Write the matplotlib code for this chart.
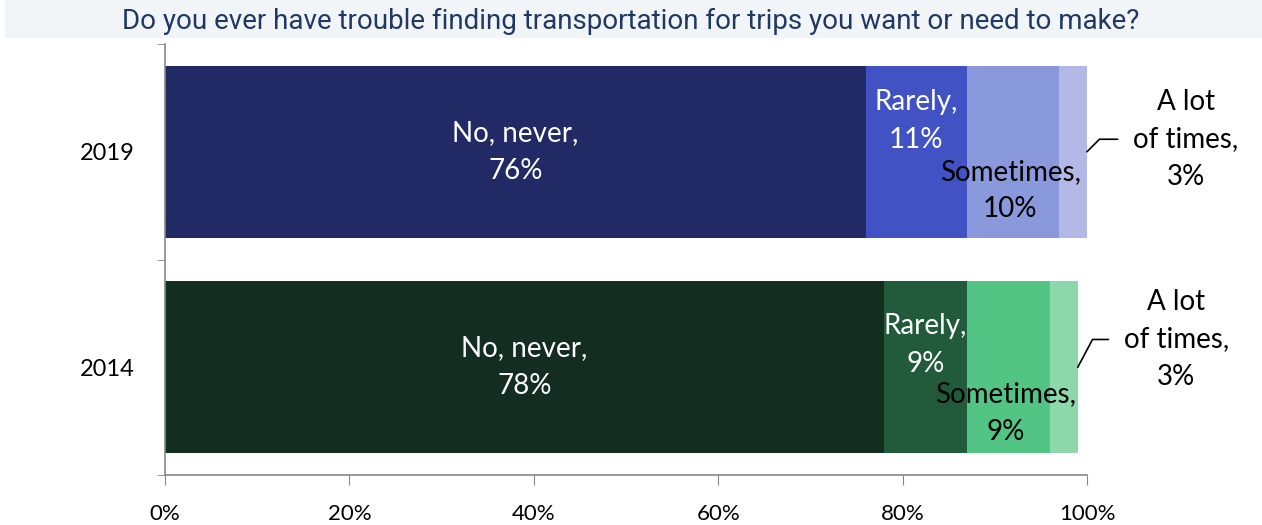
import matplotlib
matplotlib.use("Agg")
import matplotlib.pyplot as plt
from matplotlib.patches import Rectangle

# chart data
years = ["2019", "2014"]
answers = ["No, never", "Rarely", "Sometimes", "A lot\nof times"]
values_2019 = [76, 11, 10, 3]
values_2014 = [78, 9, 9, 3]
colors_2019 = ["#212A64", "#4052C4", "#8A98DC", "#B3B9E6"]
colors_2014 = ["#132D20", "#215B3B", "#52C585", "#8CD8AA"]
xticks = [0, 20, 40, 60, 80, 100]
title = "Do you ever have trouble finding transportation for trips you want or need to make?"

# label offsets (points) per row: rarely, sometimes, a-lot, leader angle
label_offsets = {
    "2019": dict(rarely=22, sometimes=-28, lot=9, angle=45),
    "2014": dict(rarely=16, sometimes=-33, lot=20, angle=62),
}

plt.rcParams['font.family'] = ['Lato', 'DejaVu Sans']

fig = plt.figure(figsize=(12.62, 5.25), dpi=100)
ax = fig.add_axes([0.1307, 0.0952, 0.7306, 0.821])

# title band
fig.patches.append(Rectangle((0.004, 0.928), 0.996, 0.072, transform=fig.transFigure,
                             facecolor="#F2F5F8", edgecolor="none", zorder=0))
fig.text(0.5, 0.960, title, ha="center", va="center", fontsize=20,
         color="#1F3864", family=["Roboto", "DejaVu Sans"])

rows = [values_2019, values_2014]
row_colors = [colors_2019, colors_2014]
ypos = [1, 0]
LS = 1.55
FS = 20

for yr, y, vals, cols in zip(years, ypos, rows, row_colors):
    off = label_offsets[yr]
    left = 0
    for i, (v, c) in enumerate(zip(vals, cols)):
        ax.barh(y, v, left=left, height=0.8, color=c, edgecolor="none")
        cx = left + v / 2
        lbl = f"{answers[i]},\n{v}%"
        if i == 0:
            ax.text(cx, y, lbl, ha="center", va="center", color="white", fontsize=FS,
                    linespacing=LS)
        elif i == 1:
            ax.annotate(lbl, (cx, y), xytext=(0, off["rarely"]), textcoords="offset points",
                        ha="center", va="center", color="white", fontsize=FS,
                        linespacing=LS)
        elif i == 2:
            ax.annotate(lbl, (cx, y), xytext=(-2, off["sometimes"]), textcoords="offset points",
                        ha="center", va="center", color="black", fontsize=FS,
                        linespacing=LS)
        else:
            ax.annotate(lbl, (left + v, y), xytext=(71, off["lot"]), textcoords="offset points",
                        ha="center", va="center", color="black", fontsize=FS,
                        linespacing=LS,
                        arrowprops=dict(arrowstyle="-", color="black", lw=1.2,
                                        shrinkA=9, shrinkB=0, relpos=(0.0, 0.5),
                                        connectionstyle=f"angle,angleA=0,angleB={off['angle']},rad=0"))
        left += v

ax.set_xlim(0, 100)
ax.set_ylim(-0.5, 1.5)
ax.set_xticks(xticks)
ax.set_xticklabels([f"{t}%" for t in xticks], fontsize=16)
ax.set_yticks([0, 1])
ax.set_yticklabels(["2014", "2019"], fontsize=17)
ax.set_yticks([-0.5, 0.5, 1.5], minor=True)
ax.tick_params(axis="y", which="major", length=0, pad=22)
ax.tick_params(axis="y", which="minor", length=6, direction="out", color="#888888")
ax.tick_params(axis="x", length=7, direction="out", color="#888888", pad=14)

for s in ["top", "right"]:
    ax.spines[s].set_visible(False)
for s in ["left", "bottom"]:
    ax.spines[s].set_color("#888888")
    ax.spines[s].set_linewidth(1.2)

fig.savefig("out.png", dpi=100, facecolor="white")
